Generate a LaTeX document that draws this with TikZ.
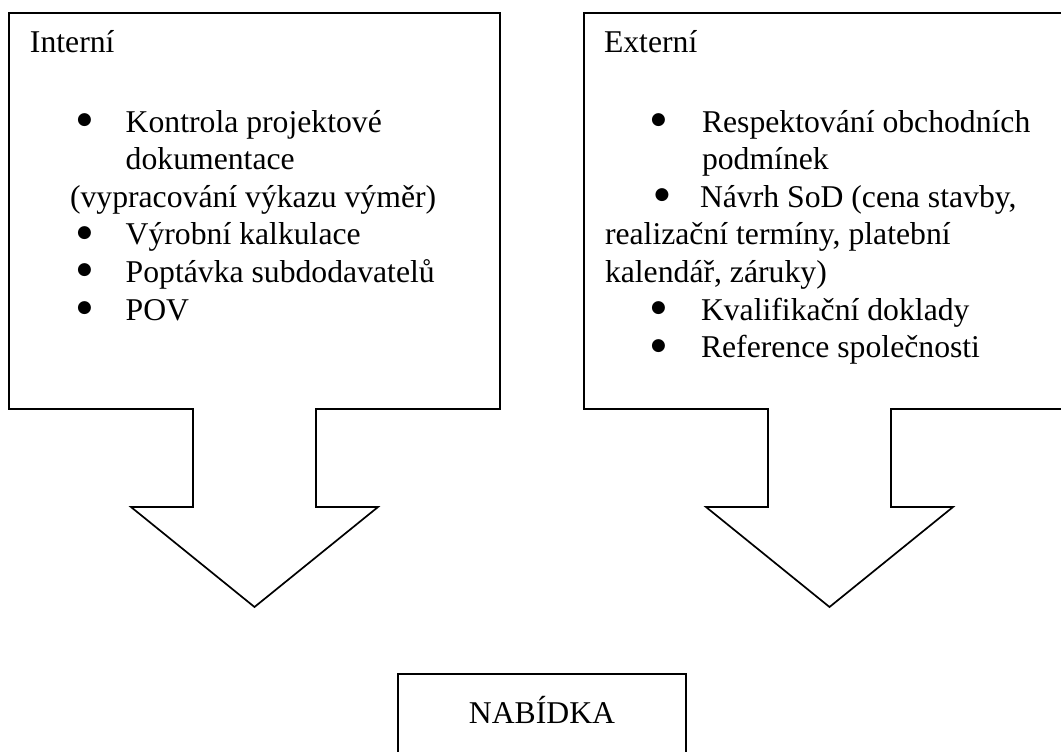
\documentclass[tikz,border=0pt]{standalone}
\usepackage{fontspec}
\setmainfont{Liberation Serif}
\newfontfamily\dotfont{DejaVu Sans}
\begin{document}
\begin{tikzpicture}[x=1pt,y=-1pt,
  outline/.style={draw=black,line width=1.7pt,line join=miter},
  txt/.style={anchor=base west,inner sep=0pt,outer sep=0pt,
    font=\fontsize{31.7}{37.6}\selectfont},
  ctxt/.style={txt,anchor=base},
  dot/.style={anchor=center,inner sep=0pt,outer sep=0pt,
    font=\dotfont\fontsize{17}{17}\selectfont}]
\useasboundingbox (0,0) rectangle (1061,752);
\clip (0,0) rectangle (1061,752);

% internal block: box with a downward arrow
\draw[outline] (9,13) -- (500,13) -- (500,409) -- (316,409) -- (316,507)
  -- (378,507) -- (254.5,607) -- (131,507) -- (193,507) -- (193,409)
  -- (9,409) -- cycle;

% external block: box with a downward arrow (runs past the right edge)
\draw[outline] (584,13) -- (1075,13) -- (1075,409) -- (891,409) -- (891,507)
  -- (953,507) -- (829.5,607) -- (706,507) -- (768,507) -- (768,409)
  -- (584,409) -- cycle;

% result box (runs past the bottom edge)
\draw[outline] (398,674) rectangle (686,770);

% internal items
\node[txt] (inTitle) at (30,53) {Interní};
\node[dot] (inB1) at (84.5,120) {●};
\node[txt] (inI1) at (125.7,132) {Kontrola projektové};
\node[txt] (inI1b) at (125.7,169.6) {dokumentace};
\node[txt] (inI1c) at (70,207) {(vypracování výkazu výměr)};
\node[dot] (inB2) at (84.5,232.8) {●};
\node[txt] (inI2) at (125.7,244.8) {Výrobní kalkulace};
\node[dot] (inB3) at (84.5,270.4) {●};
\node[txt] (inI3) at (125.7,282.4) {Poptávka subdodavatelů};
\node[dot] (inB4) at (84.5,308) {●};
\node[txt] (inI4) at (125.7,320) {POV};

% external items
\node[txt] (exTitle) at (604,53) {Externí};
\node[dot] (exB1) at (658.5,120) {●};
\node[txt] (exI1) at (702,132) {Respektování obchodních};
\node[txt] (exI1b) at (702,169.6) {podmínek};
\node[dot] (exB2) at (662,195) {●};
\node[txt] (exI2) at (700,207) {Návrh SoD (cena stavby,};
\node[txt] (exI2b) at (605,244.8) {realizační termíny, platební};
\node[txt] (exI2c) at (605,282.4) {kalendář, záruky)};
\node[dot] (exB3) at (658.5,308) {●};
\node[txt] (exI3) at (701,320) {Kvalifikační doklady};
\node[dot] (exB4) at (658.5,345.6) {●};
\node[txt] (exI4) at (701,357.6) {Reference společnosti};

% result
\node[ctxt] (offer) at (542,723) {NABÍDKA};
\end{tikzpicture}
\end{document}
